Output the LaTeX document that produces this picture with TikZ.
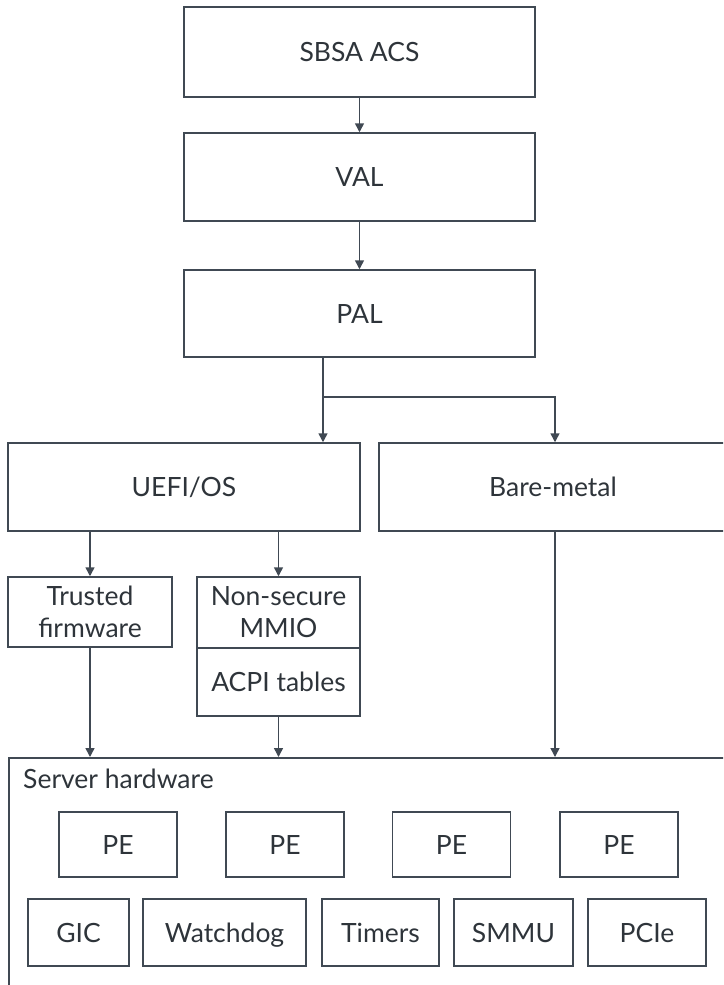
\documentclass[tikz,border=0pt]{standalone}
\usepackage{fontspec}
\setmainfont{Lato}
\usepackage{tikz}
\usetikzlibrary{arrows.meta}

\definecolor{linegrey}{RGB}{64,73,83}
\definecolor{textgrey}{RGB}{46,52,58}

\begin{document}
\begin{tikzpicture}[x=1pt,y=-1pt,
    box/.style={draw=linegrey,line width=1.5pt,rectangle,inner sep=0pt,
        text=textgrey,align=center,font=\fontsize{26.5}{32}\selectfont},
    tag/.style={box,text height=19pt,text depth=0pt},
    link/.style={draw=linegrey,line width=1.5pt,-{Triangle[length=9pt,width=9pt]}}]
    \useasboundingbox (0,0) rectangle (723,985);
    \clip (0,0) rectangle (723,985);

    % Top stack
    \node[tag,minimum width=351pt,minimum height=90pt] (sbsa) at (359.5,52) {SBSA ACS};
    \node[tag,minimum width=351pt,minimum height=88pt] (val) at (359.5,177) {VAL};
    \node[tag,minimum width=351pt,minimum height=87pt] (pal) at (359.5,313.5) {PAL};
    \draw[link] (sbsa) -- (val);
    \draw[link] (val) -- (pal);

    % Environments
    \node[tag,minimum width=352pt,minimum height=88pt] (uefi) at (184,487) {UEFI/OS};
    \node[tag,minimum width=348pt,minimum height=88pt] (bare) at (553,487) {Bare-metal};
    \coordinate (split) at (323,397);
    \draw[link] (pal.south -| split) -- (uefi.north -| split);
    \draw[link] (split) -| (bare.north -| 555,0);

    % Firmware and tables
    \node[box,minimum width=164pt,minimum height=70pt] (tfw) at (90,612) {Trusted\\firmware};
    \node[box,minimum width=163pt,minimum height=71pt] (nsm) at (278.5,612.5) {Non-secure\\MMIO};
    \node[tag,minimum width=163pt,minimum height=68pt] (acpi) at (278.5,682) {ACPI tables};
    \draw[link] (uefi.south -| tfw) -- (tfw);
    \draw[link] (uefi.south -| nsm) -- (nsm);

    % Server hardware
    \node[box,anchor=north west,minimum width=740pt,minimum height=260pt] (hw) at (8,757) {};
    \node[anchor=west,inner sep=0pt,text=textgrey,font=\fontsize{26.5}{32}\selectfont] (hwlabel) at (23,779) {Server hardware};
    \draw[link] (tfw) -- (hw.north -| tfw);
    \draw[link] (acpi) -- (hw.north -| acpi);
    \draw[link] (bare.south -| 555,0) -- (hw.north -| 555,0);

    % PE row
    \node[tag,minimum width=118pt,minimum height=65pt] (pe1) at (118,844.5) {PE};
    \node[tag,minimum width=118pt,minimum height=65pt] (pe2) at (285,844.5) {PE};
    \node[tag,minimum width=118pt,minimum height=65pt] (pe3) at (451.5,844.5) {PE};
    \node[tag,minimum width=118pt,minimum height=65pt] (pe4) at (619,844.5) {PE};

    % Device row
    \node[tag,minimum width=101pt,minimum height=67pt] (gic) at (78.5,932.5) {GIC};
    \node[tag,minimum width=163pt,minimum height=67pt] (wdog) at (224.5,932.5) {Watchdog};
    \node[tag,minimum width=117pt,minimum height=67pt] (timers) at (380.5,932.5) {Timers};
    \node[tag,minimum width=119pt,minimum height=67pt] (smmu) at (513.5,932.5) {SMMU};
    \node[tag,minimum width=118pt,minimum height=67pt] (pcie) at (647,932.5) {PCIe};
\end{tikzpicture}
\end{document}
